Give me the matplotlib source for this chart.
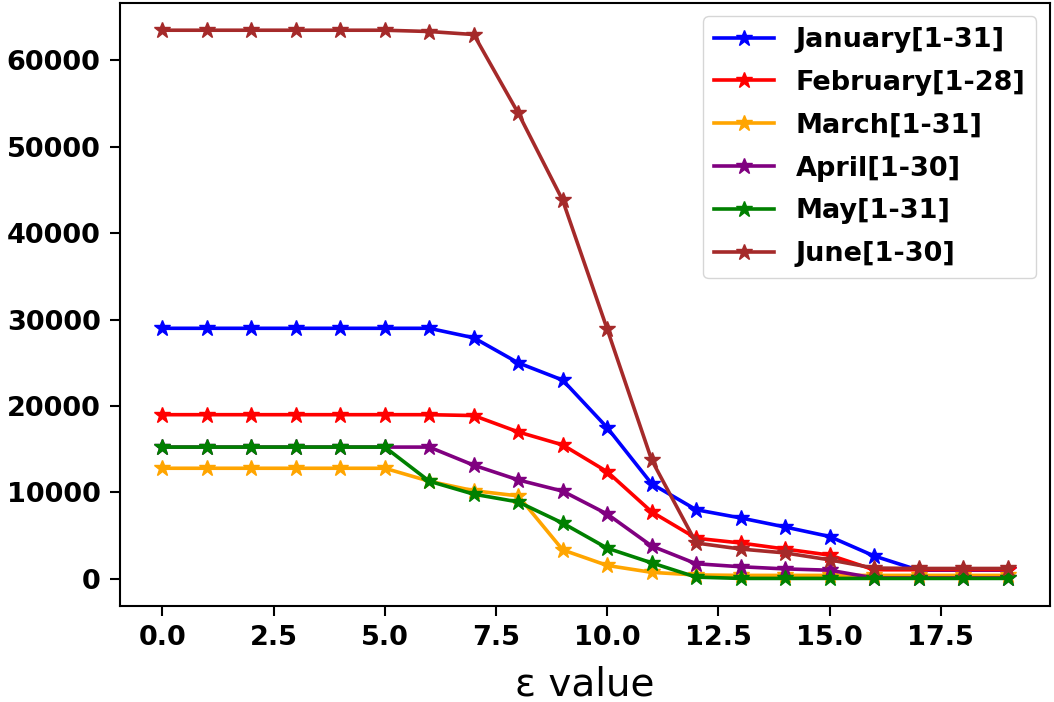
import matplotlib
matplotlib.use("Agg")
import matplotlib.pyplot as plt

eps = list(range(20))

january = [29000, 29000, 29000, 29000, 29000, 29000, 29000, 27900, 25000, 23000,
           17500, 11000, 8000, 7050, 6000, 4900, 2650, 1000, 1000, 1000]
february = [19000, 19000, 19000, 19000, 19000, 19000, 19000, 18900, 17000, 15500,
            12400, 7750, 4700, 4150, 3450, 2750, 1050, 1050, 1050, 1050]
march = [12800, 12800, 12800, 12800, 12800, 12800, 11300, 10200, 9600, 3350,
         1550, 750, 450, 400, 400, 400, 400, 400, 400, 400]
april = [15250, 15250, 15250, 15250, 15250, 15250, 15250, 13150, 11450, 10150,
         7500, 3800, 1750, 1400, 1150, 1000, 100, 100, 100, 100]
may = [15250, 15250, 15250, 15250, 15250, 15250, 11300, 9800, 8900, 6450,
       3550, 1850, 200, 50, 50, 50, 50, 50, 50, 50]
june = [63500, 63500, 63500, 63500, 63500, 63500, 63350, 63000, 53900, 43800,
        28900, 13750, 4150, 3450, 3000, 2200, 1250, 1200, 1200, 1200]

series = [
    ("January[1-31]", january, "blue"),
    ("February[1-28]", february, "red"),
    ("March[1-31]", march, "orange"),
    ("April[1-30]", april, "purple"),
    ("May[1-31]", may, "green"),
    ("June[1-30]", june, "brown"),
]

fig = plt.figure(figsize=(10.54, 7.02), dpi=100)
ax = fig.add_axes([0.114, 0.137, 0.882, 0.859])

for name, vals, col in series:
    ax.plot(eps, vals, marker="*", color=col, linewidth=2.6, markersize=12, label=name)

ax.set_xlabel("ε value", fontsize=28, labelpad=10)
ax.tick_params(labelsize=19.5, width=1.5, length=7, pad=7)
for lab in ax.get_xticklabels() + ax.get_yticklabels():
    lab.set_fontweight("bold")
for sp in ax.spines.values():
    sp.set_linewidth(1.5)

ax.legend(loc="upper right", prop={"weight": "bold", "size": 19.5},
          handlelength=2.2, labelspacing=0.62)

fig.savefig("out.png", dpi=100)
